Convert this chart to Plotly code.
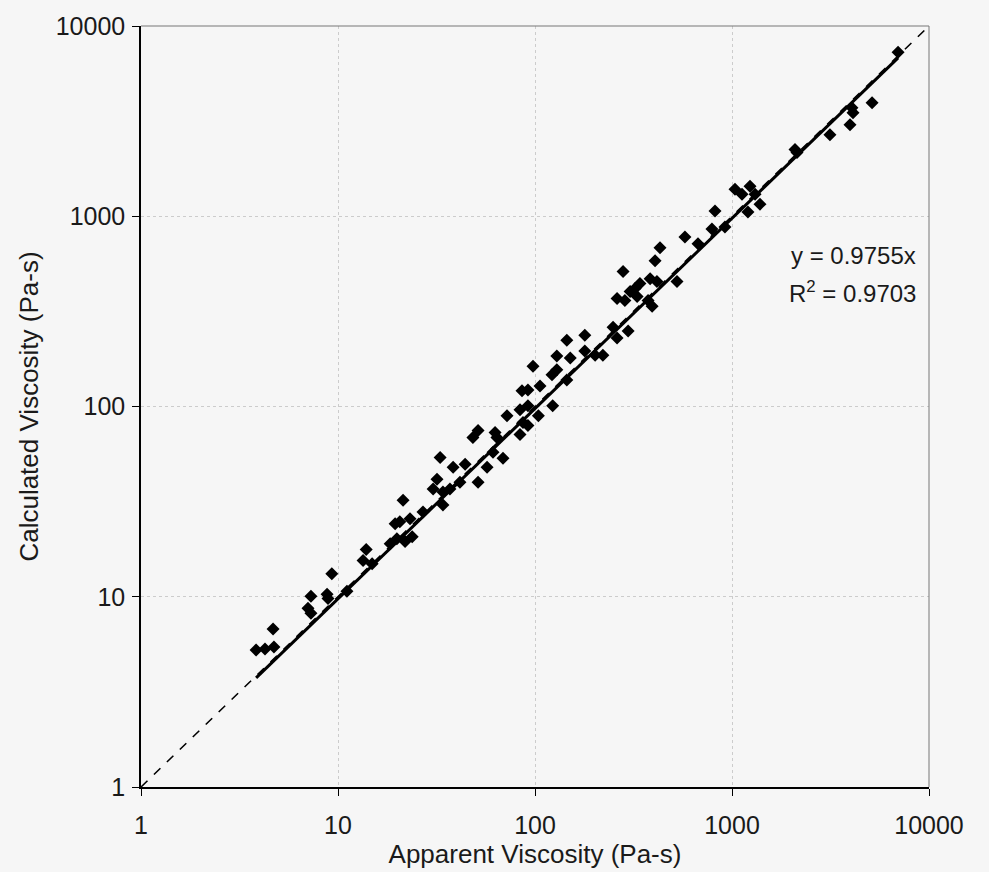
import plotly.graph_objects as go

# Apparent viscosity (Pa-s)
apparent = [3.84, 4.26, 4.73, 4.68, 7.04, 7.29, 7.29, 8.8, 8.9, 9.3,
            11.1, 13.9, 13.4, 14.9, 21.4, 19.5, 20.6, 23.2, 18.4, 19.9,
            21.9, 23.8, 27.0, 33.0, 38.4, 44.2, 31.8, 30.4, 34.1, 37.0,
            41.6, 34.1, 51.4, 48.4, 51.4, 62.7, 64.1, 57.1, 61.2, 68.8,
            72.1, 83.9, 92.1, 83.9, 92.1, 86.9, 104, 123, 85.9, 92.1,
            106, 97.7, 122, 129, 129, 145, 151, 145, 179, 179,
            202, 221, 249, 261, 297, 280, 261, 286, 304, 322,
            341, 330, 384, 416, 375, 393, 407, 431, 526, 577,
            672, 791, 820, 921, 1036, 1124, 1234, 1309, 1205, 1387,
            2089, 2138, 3141, 3972, 4113, 4064, 5140, 6966]

# Calculated viscosity (Pa-s)
calculated = [5.25, 5.31, 5.44, 6.76, 8.7, 8.19, 10.05, 10.3, 9.8, 13.2,
              10.7, 17.7, 15.5, 14.9, 32.2, 24.2, 24.8, 25.7, 19.0, 20.2,
              19.5, 20.7, 27.9, 54.0, 47.9, 49.7, 41.5, 36.8, 35.5, 36.8,
              40.0, 30.4, 40.0, 68.7, 74.8, 73.0, 68.7, 47.9, 57.4, 53.4,
              89.5, 96.2, 101, 71.3, 79.4, 82.3, 89.5, 101, 121, 122,
              128, 163, 147, 156, 184, 138, 180, 223, 237, 196,
              186, 186, 261, 229, 249, 512, 370, 361, 402, 417,
              443, 379, 470, 454, 361, 336, 584, 682, 454, 778,
              716, 858, 1064, 879, 1387, 1306, 1438, 1306, 1052, 1158,
              2244, 2163, 2685, 3029, 3499, 3715, 3945, 7278]

slope = 0.9755
r2 = 0.9703
axis_ticks = [1, 10, 100, 1000, 10000]
tick_text = ["1", "10", "100", "1000", "10000"]

x_min = min(apparent)
x_max = max(apparent)

fig = go.Figure()

# 1:1 reference line
fig.add_trace(go.Scatter(
    x=[axis_ticks[0], axis_ticks[-1]], y=[axis_ticks[0], axis_ticks[-1]],
    mode="lines", line=dict(color="black", width=1.6, dash="dash"),
    hoverinfo="skip", showlegend=False))

# Data
fig.add_trace(go.Scatter(
    x=apparent, y=calculated, mode="markers",
    marker=dict(symbol="diamond", size=10, color="black", line=dict(width=0)),
    showlegend=False))

# Trendline y = 0.9755x
fig.add_trace(go.Scatter(
    x=[x_min, x_max], y=[slope * x_min, slope * x_max],
    mode="lines", line=dict(color="black", width=3),
    hoverinfo="skip", showlegend=False))

font_family = "Liberation Sans, Arial, sans-serif"
text_color = "#1a1a1a"

axis_common = dict(
    type="log", range=[0, 4],
    tickvals=axis_ticks, ticktext=tick_text,
    showline=True, linecolor="black", linewidth=1.5,
    ticks="outside", ticklen=7, tickwidth=1.2, tickcolor="black",
    showgrid=True, gridcolor="#cccccc", gridwidth=1, griddash="dot",
    zeroline=False,
    tickfont=dict(family=font_family, size=25, color=text_color),
)

fig.update_xaxes(**axis_common,
                 title=dict(text="Apparent Viscosity (Pa-s)", standoff=0,
                            font=dict(family=font_family, size=26, color=text_color)),
                 ticklabelstandoff=8)
fig.update_yaxes(**axis_common,
                 title=dict(text="Calculated Viscosity (Pa-s)", standoff=10,
                            font=dict(family=font_family, size=26, color=text_color)),
                 ticklabelstandoff=2)

# top and right frame
fig.add_shape(type="line", xref="paper", yref="paper", x0=0, x1=1, y0=1, y1=1,
              line=dict(color="#777777", width=1))
fig.add_shape(type="line", xref="paper", yref="paper", x0=1, x1=1, y0=0, y1=1,
              line=dict(color="#777777", width=1))

fig.add_annotation(xref="paper", yref="paper", x=0.986, y=0.698,
                   xanchor="right", yanchor="middle", showarrow=False,
                   text=f"y = {slope}x",
                   font=dict(family=font_family, size=24, color=text_color))
fig.add_annotation(xref="paper", yref="paper", x=0.986, y=0.651,
                   xanchor="right", yanchor="middle", showarrow=False,
                   text=f"R<sup>2</sup> = {r2}",
                   font=dict(family=font_family, size=24, color=text_color))

fig.update_layout(
    width=989, height=872,
    margin=dict(l=141, r=60, t=21, b=85),
    paper_bgcolor="#f6f6f6", plot_bgcolor="#f6f6f6",
    font=dict(family=font_family),
)

fig.write_html("out.html")
